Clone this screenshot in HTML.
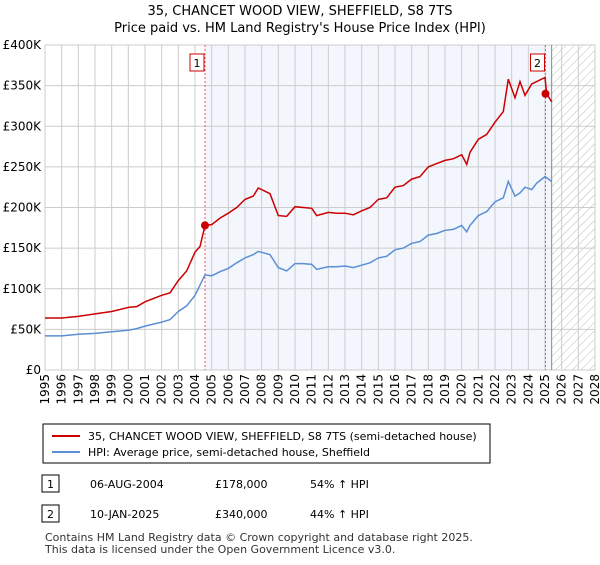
<!DOCTYPE html>
<html><head><meta charset="utf-8"><style>
body{margin:0;width:600px;height:560px;background:#fff;font-family:"Liberation Sans","DejaVu Sans",sans-serif;overflow:hidden}
svg text{font-family:"DejaVu Sans","Liberation Sans",sans-serif}
</style></head><body>
<svg id="c" width="600" height="560">
<defs><pattern id="hatch" width="6" height="6" patternUnits="userSpaceOnUse" patternTransform="rotate(45)"><line x1="0" y1="0" x2="0" y2="6" stroke="#bbb" stroke-width="1"/></pattern></defs>
<text x="300" y="15" text-anchor="middle" font-size="13">35, CHANCET WOOD VIEW, SHEFFIELD, S8 7TS</text>
<text x="300" y="32" text-anchor="middle" font-size="13">Price paid vs. HM Land Registry's House Price Index (HPI)</text>
<g id="plot"></g>
<rect x="43" y="424" width="447" height="39" fill="#fff" stroke="#000" stroke-width="1"/>
<line x1="52" y1="436" x2="80" y2="436" stroke="#cc0000" stroke-width="2"/>
<text x="88" y="440" font-size="11">35, CHANCET WOOD VIEW, SHEFFIELD, S8 7TS (semi-detached house)</text>
<line x1="52" y1="452" x2="80" y2="452" stroke="#5b8fd4" stroke-width="2"/>
<text x="88" y="456" font-size="11">HPI: Average price, semi-detached house, Sheffield</text>
<rect x="42" y="475" width="17" height="17" fill="#fff" stroke="#000"/>
<text x="50.5" y="488" text-anchor="middle" font-size="11">1</text>
<text x="90" y="488" font-size="11">06-AUG-2004</text>
<text x="215" y="488" font-size="11">£178,000</text>
<text x="310" y="488" font-size="11">54% ↑ HPI</text>
<rect x="42" y="505" width="17" height="17" fill="#fff" stroke="#000"/>
<text x="50.5" y="518" text-anchor="middle" font-size="11">2</text>
<text x="90" y="518" font-size="11">10-JAN-2025</text>
<text x="215" y="518" font-size="11">£340,000</text>
<text x="310" y="518" font-size="11">44% ↑ HPI</text>
<text x="45" y="541" font-size="11" fill="#333">Contains HM Land Registry data © Crown copyright and database right 2025.</text>
<text x="45" y="553" font-size="11" fill="#333">This data is licensed under the Open Government Licence v3.0.</text>
</svg>
<script>
const hpiYears=[1995,1996,1997,1998,1999,2000,2000.5,2001,2002,2002.5,2003,2003.5,2004,2004.6,2005,2005.5,2006,2006.5,2007,2007.5,2007.8,2008.5,2009,2009.5,2010,2010.5,2011,2011.3,2012,2012.5,2013,2013.5,2014,2014.5,2015,2015.5,2016,2016.5,2017,2017.5,2018,2018.5,2019,2019.5,2020,2020.3,2020.5,2021,2021.5,2022,2022.5,2022.8,2023.2,2023.5,2023.8,2024.2,2024.5,2025,2025.4];
const hpiValues=[42,42,44,45,47,49,51,54,59,62,72,79,92,117,116,121,125,132,138,142,146,142,126,122,131,131,130,124,127,127,128,126,129,132,138,140,148,150,156,158,166,168,172,173,178,170,178,190,195,207,212,232,214,218,225,222,230,238,232];
const redYears=[1995,1996,1997,1998,1999,2000,2000.5,2001,2002,2002.5,2003,2003.5,2004,2004.3,2004.6,2005,2005.5,2006,2006.5,2007,2007.5,2007.8,2008.5,2009,2009.5,2010,2010.5,2011,2011.3,2012,2012.5,2013,2013.5,2014,2014.5,2015,2015.5,2016,2016.5,2017,2017.5,2018,2018.5,2019,2019.5,2020,2020.3,2020.5,2021,2021.5,2022,2022.5,2022.8,2023.2,2023.5,2023.8,2024.2,2024.5,2025,2025.1,2025.4];
const redValues=[64,64,66,69,72,77,78,84,92,95,110,122,145,152,178,179,187,193,200,210,214,224,217,190,189,201,200,199,190,194,193,193,191,196,200,210,212,225,227,235,238,250,254,258,260,265,253,268,284,290,305,318,358,335,355,338,352,355,360,340,330];
const saleYears=[2004.6,2025.03];
const saleValues=[178,340];
const saleLabels=["1","2"];
const yTicks=[0,50,100,150,200,250,300,350,400];
const yTickLabels=["£0","£50K","£100K","£150K","£200K","£250K","£300K","£350K","£400K"];
const xTicks=[1995,1996,1997,1998,1999,2000,2001,2002,2003,2004,2005,2006,2007,2008,2009,2010,2011,2012,2013,2014,2015,2016,2017,2018,2019,2020,2021,2022,2023,2024,2025,2026,2027,2028];
const dataEnd=2025.4;
const X0=45,X1=595,Y0=370,Y1=45;
const xs=y=>X0+(y-1995)/(2028-1995)*(X1-X0);
const ys=v=>Y0-v/400*(Y0-Y1);
const NS="http://www.w3.org/2000/svg";
const g=document.getElementById('plot');
function mk(t,a){const e=document.createElementNS(NS,t);for(const k in a)e.setAttribute(k,a[k]);g.appendChild(e);return e;}
let e;
e=mk('rect',{x:xs(saleYears[0]),y:Y1,width:xs(dataEnd)-xs(saleYears[0]),height:Y0-Y1,fill:'#f3f6fd'});


e=mk('rect',{x:xs(dataEnd),y:Y1,width:X1-xs(dataEnd),height:Y0-Y1,fill:'url(#hatch)'});


xTicks.forEach(t=>{e=mk('line',{x1:xs(t),x2:xs(t),y1:Y1,y2:Y0,stroke:'#ccc','stroke-width':1});


e=mk('text',{transform:`translate(${xs(t)+4},${Y0+4}) rotate(-90)`,'text-anchor':'end','font-size':12});
e.textContent=t;

});
yTicks.forEach((t,i)=>{e=mk('line',{x1:X0,x2:X1,y1:ys(t),y2:ys(t),stroke:'#ccc','stroke-width':1});


e=mk('text',{x:X0-4,y:ys(t)+4,'text-anchor':'end','font-size':12});
e.textContent=yTickLabels[i];

});
e=mk('line',{x1:xs(dataEnd),x2:xs(dataEnd),y1:Y1,y2:Y0,stroke:'#888','stroke-width':1});


saleYears.forEach((s,i)=>{e=mk('line',{x1:xs(s),x2:xs(s),y1:Y1,y2:Y0,stroke:'#e55','stroke-width':1,'stroke-dasharray':'2,2'});


e=mk('rect',{x:xs(s)-15,y:54,width:14,height:17,fill:'#fff',stroke:'#cc0000'});


e=mk('text',{x:xs(s)-8,y:67,'text-anchor':'middle','font-size':11});
e.textContent=saleLabels[i];

});
const path=(yr,v)=>yr.map((y,i)=>(i?'L':'M')+xs(y).toFixed(1)+','+ys(v[i]).toFixed(1)).join('');
e=mk('path',{d:path(hpiYears,hpiValues),fill:'none',stroke:'#5b8fd4','stroke-width':1.5});


e=mk('path',{d:path(redYears,redValues),fill:'none',stroke:'#cc0000','stroke-width':1.5});


saleYears.forEach((s,i)=>{e=mk('circle',{cx:xs(s),cy:ys(saleValues[i]),r:4,fill:'#cc0000'});

});
</script>
</body></html>
